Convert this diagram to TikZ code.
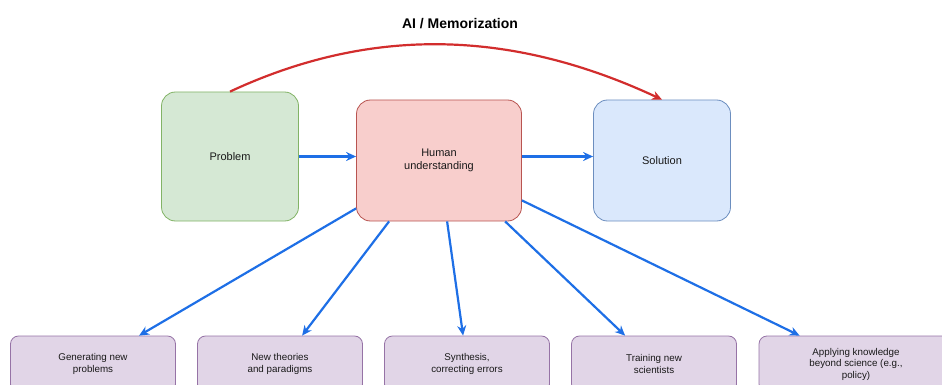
\documentclass[tikz,border=0pt]{standalone}
\usepackage{fontspec}
\setmainfont{Liberation Sans}
\usepackage{tikz}
\usetikzlibrary{arrows.meta}
\definecolor{arrowColor}{RGB}{30,111,230}
\definecolor{shortcutColor}{RGB}{210,45,45}
\definecolor{problemFill}{HTML}{D5E8D4}
\definecolor{problemLine}{HTML}{82B366}
\definecolor{humanFill}{HTML}{F8CECC}
\definecolor{humanLine}{HTML}{B85450}
\definecolor{solutionFill}{HTML}{DAE8FC}
\definecolor{solutionLine}{HTML}{6C8EBF}
\definecolor{outcomeFill}{HTML}{E1D5E7}
\definecolor{outcomeLine}{HTML}{9673A6}

\begin{document}
\begin{tikzpicture}[x=1pt,y=-1pt]

          \tikzstyle{bigBox} = [draw, line width=0.8pt, rounded corners=14pt, align=center,
                                font=\fontsize{11}{13}\selectfont, text=black!90];
          \tikzstyle{problemNode} = [bigBox, fill=problemFill, draw=problemLine,
                                     minimum width=137pt, minimum height=129pt];
          \tikzstyle{humanNode} = [bigBox, fill=humanFill, draw=humanLine,
                                   minimum width=165pt, minimum height=121pt];
          \tikzstyle{solutionNode} = [bigBox, fill=solutionFill, draw=solutionLine,
                                      minimum width=137pt, minimum height=121pt];
          \tikzstyle{outcomeNode} = [draw=outcomeLine, fill=outcomeFill, line width=0.8pt,
                                     rounded corners=8pt, align=center, minimum width=165pt,
                                     minimum height=56pt, font=\fontsize{9.8}{11.5}\selectfont,
                                     text=black!90];

          \tikzstyle{normalEdge} = [line width=2.2pt, arrowColor, -{Stealth[length=10pt,width=9pt]}];
          \tikzstyle{shortcutEdge} = [line width=2.2pt, shortcutColor, -{Stealth[length=10pt,width=9pt]}];

          \useasboundingbox (0,0) rectangle (942,385);
          \clip (0,0) rectangle (942,385);

          \node[font=\fontsize{14}{16}\selectfont\bfseries] (title) at (460,24) {AI / Memorization};

          \node[problemNode] (problem) at (230,156.5) {Problem};
          \node[humanNode] (human) at (439,160.5) {Human\\understanding};
          \node[solutionNode] (solution) at (662,160.5) {Solution};

          \node[outcomeNode] (generating) at (93,364) {Generating new\\problems};
          \node[outcomeNode] (theories) at (280,364) {New theories\\and paradigms};
          \node[outcomeNode] (synthesis) at (467,364) {Synthesis,\\correcting errors};
          \node[outcomeNode] (training) at (654,364) {Training new\\scientists};
          \node[outcomeNode, minimum width=194pt] (applying) at (856,364)
               {Applying knowledge\\beyond science (e.g.,\\policy)};

          \draw[shortcutEdge] (problem.north) to[out=25, in=155, looseness=0.95] (solution.north);

          \draw[normalEdge] (problem.east) -- (problem.east -| human.west);
          \draw[normalEdge] (human.east |- problem.east) -- (solution.west |- problem.east);

          \draw[normalEdge] ([yshift=13pt]human.south west) -- ([xshift=129pt]generating.north west);
          \draw[normalEdge] ([xshift=33pt]human.south west) -- ([xshift=105pt]theories.north west);
          \draw[normalEdge] ([xshift=91pt]human.south west) -- ([xshift=79pt]synthesis.north west);
          \draw[normalEdge] ([xshift=149pt]human.south west) -- ([xshift=54pt]training.north west);
          \draw[normalEdge] ([yshift=21pt]human.south east) -- ([xshift=41pt]applying.north west);
        \end{tikzpicture}
\end{document}
